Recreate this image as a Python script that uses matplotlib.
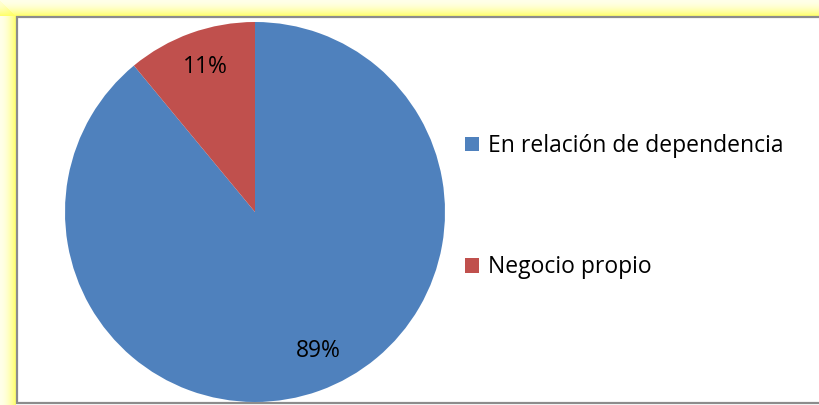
import matplotlib
matplotlib.use("Agg")
import matplotlib.pyplot as plt
from matplotlib.patches import Rectangle
import numpy as np

categories = ["En relación de dependencia", "Negocio propio"]
values = [89, 11]
colors = ["#4F81BD", "#C0504D"]

W, H = 819, 405
fig = plt.figure(figsize=(W / 100, H / 100), dpi=100)
fig.patch.set_facecolor("white")

def px(x, y, w, h):
    return (x / W, 1 - (y + h) / H, w / W, h / H)

# soft yellow glow (top and left)
for i in range(16):
    a = 0.15 + 0.8 * (i / 15) ** 1.8
    col = (1.0, 1.0, 0.4, a)
    x0, y0, w0, h0 = px(0, i, W, 1)
    fig.add_artist(Rectangle((x0, y0), w0, h0, transform=fig.transFigure,
                             facecolor=col, edgecolor="none", zorder=0))
    x0, y0, w0, h0 = px(i, i + 1, 1, H - i)
    fig.add_artist(Rectangle((x0, y0), w0, h0, transform=fig.transFigure,
                             facecolor=col, edgecolor="none", zorder=0))

# gray frame
x0, y0, w0, h0 = px(17, 17, W - 17 + 5, H - 17 - 2.5)
fig.add_artist(Rectangle((x0, y0), w0, h0, transform=fig.transFigure,
                         facecolor="white", edgecolor="#8C8C8C", linewidth=1.6, zorder=1))

cx, cy, r = 255, 212, 190
ax = fig.add_axes([(cx - r) / W, 1 - (cy + r) / H, 2 * r / W, 2 * r / H])
ax.set_zorder(2)
wedges, texts, autotexts = ax.pie(
    values, colors=colors, startangle=90, counterclock=False,
    autopct="%1.0f%%", pctdistance=0.8,
    textprops=dict(fontsize=16.5, family="Open Sans", color="black"),
    wedgeprops=dict(linewidth=0),
)
# small nudge of the large-slice label to match the reference placement
x, y = autotexts[0].get_position()
autotexts[0].set_position((x + 0.063, y + 0.02))
x, y = autotexts[1].get_position()
autotexts[1].set_position((x + 0.008, y + 0.008))
ax.set_xlim(-1, 1)
ax.set_ylim(-1, 1)
ax.set_aspect("equal")
ax.axis("off")

leg = fig.legend(wedges, categories, loc="upper left",
                 bbox_to_anchor=(465 / W, 1 - 134 / H),
                 frameon=False, prop=dict(family="Open Sans", size=16.5),
                 handlelength=0.62, handleheight=0.62, handletextpad=0.4,
                 labelspacing=4.25, borderpad=0, borderaxespad=0)

fig.savefig("out.png", dpi=100, facecolor=fig.get_facecolor())
